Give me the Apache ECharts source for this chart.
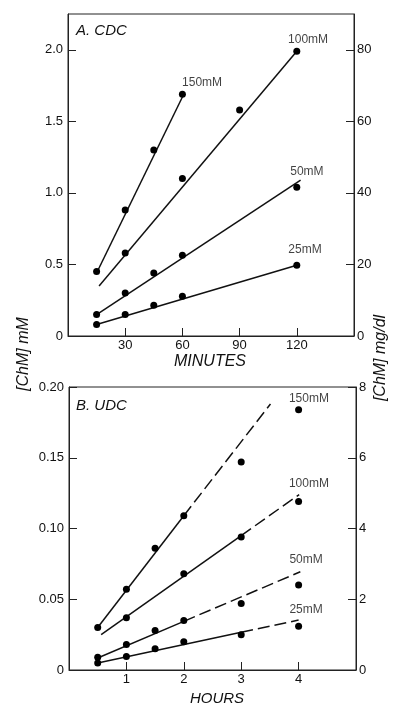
<!DOCTYPE html>
<html><head><meta charset="utf-8">
<script src="https://cdn.jsdelivr.net/npm/echarts@6/dist/echarts.min.js"></script>
<style>html,body{margin:0;padding:0;background:#fff}#c{width:394px;height:707px}</style>
</head><body><div id="c"></div>
<script>
// ---------- Panel A: CDC (minutes) ----------
const cdcTicksX = [30, 60, 90, 120];
const cdcTicksY = [0, 0.5, 1.0, 1.5, 2.0];
const cdcTicksY2 = [0, 20, 40, 60, 80];
const cdc150X = [15, 30, 45, 60];
const cdc150Y = [0.45, 0.88, 1.30, 1.69];
const cdc100X = [30, 60, 90, 120];
const cdc100Y = [0.58, 1.10, 1.58, 1.99];
const cdc50X = [15, 30, 45, 60, 120];
const cdc50Y = [0.15, 0.30, 0.44, 0.565, 1.04];
const cdc25X = [15, 30, 45, 60, 120];
const cdc25Y = [0.08, 0.15, 0.215, 0.278, 0.495];
// fitted lines: [x1, y1, x2, y2]
const cdc150Fit = [15, 0.44, 60, 1.67];
const cdc100Fit = [16.3, 0.35, 120, 1.99];
const cdc50Fit = [15, 0.15, 122, 1.09];
const cdc25Fit = [15, 0.08, 120, 0.495];
const cdcLabelNames = ['150mM', '100mM', '50mM', '25mM'];
const cdcLabelX = [70.3, 125.9, 125.3, 124.3];
const cdcLabelY = [1.768, 2.068, 1.146, 0.601];

// ---------- Panel B: UDC (hours) ----------
const udcTicksX = [1, 2, 3, 4];
const udcTicksY = [0, 0.05, 0.10, 0.15, 0.20];
const udcTicksY2 = [0, 2, 4, 6, 8];
const udc150X = [0.5, 1, 1.5, 2, 3, 4];
const udc150Y = [0.030, 0.057, 0.086, 0.109, 0.147, 0.184];
const udc100X = [1, 2, 3, 4];
const udc100Y = [0.037, 0.068, 0.094, 0.119];
const udc50X = [0.5, 1, 1.5, 2, 3, 4];
const udc50Y = [0.009, 0.018, 0.028, 0.035, 0.047, 0.060];
const udc25X = [0.5, 1, 1.5, 2, 3, 4];
const udc25Y = [0.005, 0.0095, 0.015, 0.020, 0.025, 0.031];
// fitted lines: solid part [x1,y1,x2,y2], dashed extension [x2,y2,x3,y3]
const udc150Solid = [0.5, 0.030, 2, 0.109];
const udc150Dash = [2, 0.109, 3.51, 0.188];
const udc100Solid = [0.56, 0.025, 3, 0.095];
const udc100Dash = [3, 0.095, 4.01, 0.124];
const udc50Solid = [0.5, 0.0085, 2, 0.0344];
const udc50Dash = [2, 0.0344, 4.03, 0.0694];
const udc25Solid = [0.5, 0.005, 3, 0.0267];
const udc25Dash = [3, 0.0267, 4.0, 0.0353];
const udcLabelNames = ['150mM', '100mM', '50mM', '25mM'];
const udcLabelX = [4.18, 4.18, 4.13, 4.13];
const udcLabelY = [0.192, 0.132, 0.0777, 0.0424];

const INK = '#111';
const FONT = 'Liberation Sans';

const zip = (xs, ys) => xs.map((x, i) => [x, ys[i]]);
const seg = s => [[s[0], s[1]], [s[2], s[3]]];

function pts(xs, ys, xi, yi) {
  return { type: 'scatter', xAxisIndex: xi, yAxisIndex: yi, data: zip(xs, ys),
    symbol: 'circle', symbolSize: 7, itemStyle: { color: '#000', opacity: 1 }, z: 5, silent: true };
}
function fit(s, xi, yi, dashed) {
  return { type: 'line', xAxisIndex: xi, yAxisIndex: yi, data: seg(s), symbol: 'none',
    lineStyle: { color: INK, width: 1.5, type: dashed ? [12, 5] : 'solid' }, z: 4, silent: true };
}
function labels(names, xs, ys, xi, yi) {
  return { type: 'scatter', xAxisIndex: xi, yAxisIndex: yi, symbolSize: 0, silent: true,
    data: names.map((n, i) => ({ name: n, value: [xs[i], ys[i]] })),
    label: { show: true, position: 'inside', formatter: '{b}', color: INK, fontSize: 12, fontFamily: FONT } };
}

function xAx(grid, min, max, interval, ticks) {
  return { type: 'value', gridIndex: grid, min, max, interval,
    axisLine: { show: true, lineStyle: { color: '#222', width: 1 } },
    axisTick: { show: true, inside: true, length: 8, customValues: ticks, lineStyle: { color: '#222' } },
    axisLabel: { customValues: ticks, margin: 3, color: INK, fontSize: 13, fontFamily: FONT },
    splitLine: { show: false } };
}
function yAx(grid, min, max, interval, ticks, pos, fmt, margin) {
  return { type: 'value', gridIndex: grid, min, max, interval, position: pos,
    axisLine: { show: true, onZero: false, lineStyle: { color: '#222', width: 1 } },
    axisTick: { show: true, inside: true, length: 8, customValues: ticks, lineStyle: { color: '#222' } },
    axisLabel: { customValues: ticks, margin: margin, color: INK, fontSize: 13, fontFamily: FONT, formatter: fmt },
    splitLine: { show: false } };
}

const chart = echarts.init(document.getElementById('c'), null, { renderer: 'canvas' });
chart.setOption({
  animation: false,
  backgroundColor: '#fff',
  grid: [
    { left: 68, top: 14, width: 286, height: 322, show: true, borderColor: '#222', borderWidth: 1 },
    { left: 69, top: 387, width: 287, height: 283, show: true, borderColor: '#222', borderWidth: 1 }
  ],
  xAxis: [
    xAx(0, 0, 150, 30, cdcTicksX),
    xAx(1, 0, 5, 1, udcTicksX)
  ],
  yAxis: [
    yAx(0, 0, 2.25, 0.5, cdcTicksY, 'left', v => v === 0 ? '0' : v.toFixed(1), 5),
    yAx(0, 0, 90, 20, cdcTicksY2, 'right', v => String(v), 3),
    yAx(1, 0, 0.2, 0.05, udcTicksY, 'left', v => v === 0 ? '0' : v.toFixed(2), 5),
    yAx(1, 0, 8, 2, udcTicksY2, 'right', v => String(v), 3)
  ],
  graphic: [
    { type: 'text', x: 76, y: 31, style: { text: 'A. CDC', font: 'italic 15px "Liberation Sans"', fill: INK, textVerticalAlign: 'middle' } },
    { type: 'text', x: 76, y: 406, style: { text: 'B. UDC', font: 'italic 15px "Liberation Sans"', fill: INK, textVerticalAlign: 'middle' } },
    { type: 'text', x: 210, y: 362, style: { text: 'MINUTES', font: 'italic 16px "Liberation Sans"', fill: INK, textAlign: 'center', textVerticalAlign: 'middle' } },
    { type: 'text', x: 217, y: 699, style: { text: 'HOURS', font: 'italic 15px "Liberation Sans"', fill: INK, textAlign: 'center', textVerticalAlign: 'middle' } },
    { type: 'text', x: 24, y: 354, rotation: Math.PI / 2, style: { text: '[ChM] mM', font: 'italic 16px "Liberation Sans"', fill: INK, textAlign: 'center', textVerticalAlign: 'middle' } },
    { type: 'text', x: 381, y: 358, rotation: Math.PI / 2, style: { text: '[ChM] mg/dl', font: 'italic 16px "Liberation Sans"', fill: INK, textAlign: 'center', textVerticalAlign: 'middle' } }
  ],
  series: [
    pts(cdc150X, cdc150Y, 0, 0), pts(cdc100X, cdc100Y, 0, 0), pts(cdc50X, cdc50Y, 0, 0), pts(cdc25X, cdc25Y, 0, 0),
    fit(cdc150Fit, 0, 0), fit(cdc100Fit, 0, 0), fit(cdc50Fit, 0, 0), fit(cdc25Fit, 0, 0),
    labels(cdcLabelNames, cdcLabelX, cdcLabelY, 0, 0),
    pts(udc150X, udc150Y, 1, 2), pts(udc100X, udc100Y, 1, 2), pts(udc50X, udc50Y, 1, 2), pts(udc25X, udc25Y, 1, 2),
    fit(udc150Solid, 1, 2), fit(udc150Dash, 1, 2, true),
    fit(udc100Solid, 1, 2), fit(udc100Dash, 1, 2, true),
    fit(udc50Solid, 1, 2), fit(udc50Dash, 1, 2, true),
    fit(udc25Solid, 1, 2), fit(udc25Dash, 1, 2, true),
    labels(udcLabelNames, udcLabelX, udcLabelY, 1, 2)
  ]
});
</script></body></html>
